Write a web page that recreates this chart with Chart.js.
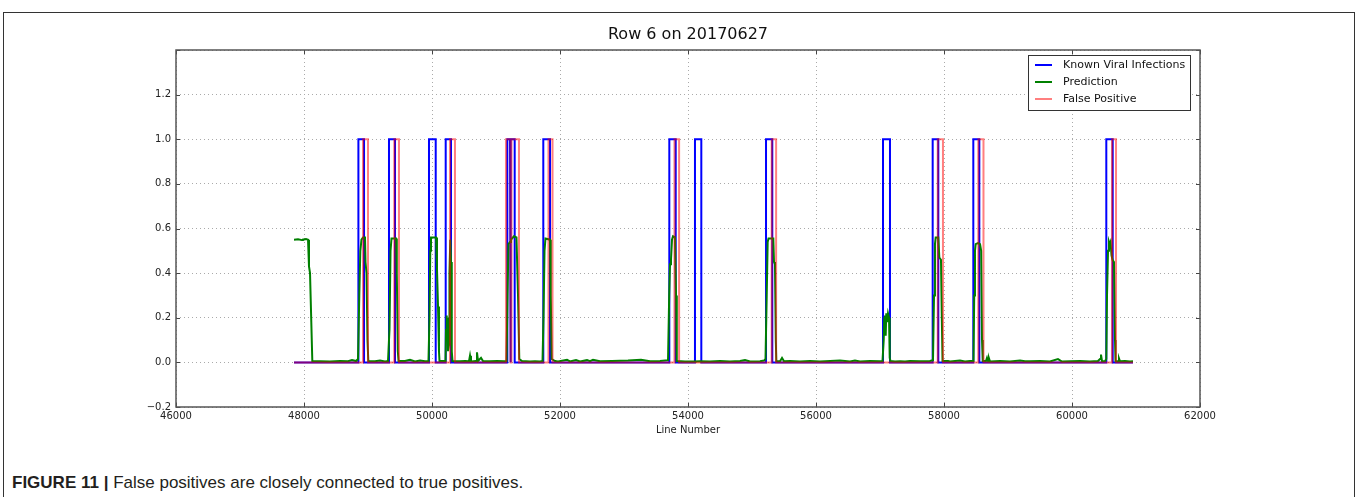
<!DOCTYPE html>
<html>
<head>
<meta charset="utf-8">
<script src="https://cdn.jsdelivr.net/npm/chart.js@4.4.1/dist/chart.umd.min.js"></script>
<style>
  body { margin: 0; background: #fff; width: 1358px; height: 497px; overflow: hidden; position: relative; }
  #frame { position: absolute; left: 3px; top: 12px; width: 1350px; height: 500px;
           border: 1px solid #333; border-bottom: none; }
  #wrap { position: absolute; left: 0; top: 0; width: 1358px; height: 462px; }
  #caption { position: absolute; left: 12px; top: 473px; font: 17px "Liberation Sans", Arial, sans-serif;
             color: #231f20; white-space: nowrap; }
  #caption b { font-weight: bold; }
</style>
</head>
<body>
<div id="frame"></div>
<div id="wrap"><canvas id="myChart" width="1358" height="462"></canvas></div>
<div id="caption"><b>FIGURE 11 |</b> False positives are closely connected to true positives.</div>
<script>
const chartTitle = "Row 6 on 20170627";

// line range covered by the recording
const lineStart = 47844;
const lineEnd = 60953;

// known viral infections (value 1 between start and end)
const knownStart = [48850, 49328, 49953, 50214, 51177, 51234, 51739, 53708, 54109, 55219, 57047, 57823, 58458, 60536];
const knownEnd   = [48938, 49422, 50058, 50297, 51219, 51292, 51844, 53808, 54208, 55317, 57156, 57911, 58552, 60636];

// false positives (value 1 between start and end)
const falseStart = [48922, 49411, 50281, 51156, 51242, 51820, 53789, 55308, 57902, 58536, 60625];
const falseEnd   = [49000, 49484, 50359, 51227, 51359, 51883, 53861, 55377, 57984, 58617, 60688];

// prediction curve
const predX = [
  47844, 47906, 47969, 47984, 48031, 48063, 48078, 48094, 48130, 48250, 48406, 48563, 48688, 48750, 48813, 48844,
  48864, 48880, 48898, 48922, 48953, 48961, 48977, 48992, 49005,
  49109, 49188, 49266, 49313,
  49336, 49352, 49367, 49438, 49450, 49466, 49477,
  49578, 49656, 49734, 49813, 49891, 49945,
  49961, 49973, 49984, 50063, 50078, 50094, 50109, 50117,
  50172, 50211,
  50219, 50227, 50234, 50242, 50250, 50266, 50273, 50286, 50297, 50309, 50320,
  50438, 50516, 50578, 50594, 50609, 50688, 50703, 50719, 50766, 50797, 50906, 51016, 51125, 51164,
  51180, 51195, 51219, 51234, 51250, 51281, 51320, 51344, 51364,
  51406, 51531, 51609, 51688, 51727,
  51742, 51758, 51773, 51844, 51856, 51870,
  51922, 51969, 52109, 52156, 52250, 52313, 52422, 52469, 52516, 52625, 52813, 53063, 53266, 53406, 53563, 53688,
  53706, 53719, 53734, 53750, 53766, 53797, 53813, 53825,
  53953, 54078, 54188, 54344, 54500, 54656, 54813, 54891, 54969, 55125, 55188, 55211,
  55230, 55245, 55258, 55333, 55344, 55359, 55372, 55380,
  55438, 55469, 55500, 55594, 55750, 55906, 56063, 56219, 56375, 56531, 56609, 56688, 56844, 57000, 57039,
  57058, 57067, 57078, 57089, 57098, 57109, 57125, 57141, 57152, 57164,
  57234, 57313, 57391, 57469, 57625, 57781, 57828,
  57844, 57859, 57870, 57911, 57927, 57953, 57966, 57977,
  58063, 58094, 58172, 58250, 58328, 58406, 58461,
  58472, 58484, 58495, 58531, 58563, 58581, 58594, 58605,
  58656, 58672, 58688, 58703, 58719, 58875, 59031, 59188, 59266, 59344, 59500, 59656, 59781, 59844, 59969, 60125,
  60281, 60406, 60438, 60453, 60469, 60516, 60536,
  60547, 60563, 60578, 60589, 60602, 60617, 60633, 60656, 60672, 60680,
  60719, 60734, 60750, 60828, 60906, 60953
];
const predY = [
  0.55, 0.552, 0.548, 0.55, 0.553, 0.55, 0.43, 0.40, 0.006, 0.005, 0.004, 0.006, 0.005, 0.01, 0.006, 0.015,
  0.3, 0.5, 0.55, 0.56, 0.56, 0.45, 0.4, 0.1, 0.006,
  0.005, 0.008, 0.004, 0.006,
  0.15, 0.5, 0.555, 0.555, 0.4, 0.05, 0.006,
  0.006, 0.012, 0.004, 0.008, 0.005, 0.006,
  0.2, 0.5, 0.56, 0.56, 0.42, 0.25, 0.05, 0.006,
  0.006, 0.006,
  0.15, 0.21, 0.1, 0.2, 0.05, 0.08, 0.4, 0.55, 0.45, 0.05, 0.006,
  0.005, 0.006, 0.005, 0.03, 0.004, 0.006, 0.045, 0.006, 0.02, 0.006, 0.005, 0.006, 0.005, 0.006,
  0.3, 0.53, 0.54, 0.55, 0.555, 0.565, 0.56, 0.3, 0.015,
  0.006, 0.004, 0.005, 0.004, 0.006,
  0.2, 0.5, 0.555, 0.55, 0.3, 0.015,
  0.006, 0.004, 0.012, 0.004, 0.01, 0.004, 0.01, 0.005, 0.012, 0.005, 0.006, 0.008, 0.012, 0.005, 0.006, 0.01,
  0.3, 0.44, 0.46, 0.55, 0.565, 0.56, 0.3, 0.006,
  0.004, 0.004, 0.005, 0.004, 0.006, 0.004, 0.006, 0.01, 0.004, 0.005, 0.008, 0.015,
  0.3, 0.54, 0.555, 0.555, 0.45, 0.44, 0.1, 0.006,
  0.005, 0.02, 0.005, 0.006, 0.004, 0.006, 0.004, 0.006, 0.008, 0.004, 0.008, 0.004, 0.006, 0.005, 0.006,
  0.1, 0.2, 0.21, 0.12, 0.22, 0.18, 0.22, 0.2, 0.02, 0.006,
  0.004, 0.005, 0.004, 0.006, 0.005, 0.006, 0.01,
  0.3, 0.53, 0.56, 0.56, 0.47, 0.46, 0.2, 0.006,
  0.006, 0.004, 0.006, 0.008, 0.004, 0.006, 0.006,
  0.3, 0.5, 0.53, 0.535, 0.53, 0.5, 0.1, 0.006,
  0.006, 0.02, 0.005, 0.018, 0.004, 0.006, 0.004, 0.008, 0.005, 0.005, 0.006, 0.004, 0.015, 0.004, 0.005, 0.006,
  0.004, 0.006, 0.015, 0.035, 0.005, 0.006, 0.015,
  0.3, 0.5, 0.54, 0.53, 0.54, 0.48, 0.46, 0.45, 0.1, 0.006,
  0.005, 0.018, 0.005, 0.006, 0.004, 0.005
];

// turn start/end lists into a 0/1 step trace
function pulsePoints(starts, ends) {
  const pts = [{ x: lineStart, y: 0 }];
  starts.forEach((s, i) => {
    pts.push({ x: s, y: 0 }, { x: s, y: 1 }, { x: ends[i], y: 1 }, { x: ends[i], y: 0 });
  });
  pts.push({ x: lineEnd, y: 0 });
  return pts;
}

const tickFont = { family: "'DejaVu Sans', sans-serif", size: 10 };

// matplotlib style frame, inward ticks, title and legend inside the axes
const axesPlugin = {
  id: "axesDecor",
  afterDatasetsDraw(chart) {
    const { ctx, chartArea: a, scales } = chart;
    ctx.save();
    ctx.strokeStyle = "#444";
    ctx.lineWidth = 1;
    ctx.beginPath();
    scales.x.ticks.forEach((t) => {
      const px = Math.round(scales.x.getPixelForValue(t.value)) + 0.5;
      ctx.moveTo(px, a.bottom); ctx.lineTo(px, a.bottom - 4);
      ctx.moveTo(px, a.top); ctx.lineTo(px, a.top + 4);
    });
    scales.y.ticks.forEach((t) => {
      const py = Math.round(scales.y.getPixelForValue(t.value)) + 0.5;
      ctx.moveTo(a.left, py); ctx.lineTo(a.left + 4, py);
      ctx.moveTo(a.right, py); ctx.lineTo(a.right - 4, py);
    });
    ctx.stroke();
    ctx.lineWidth = 1.5;
    ctx.strokeStyle = "#555";
    ctx.strokeRect(a.left, a.top, a.right - a.left, a.bottom - a.top);

    // title centred over the axes
    ctx.fillStyle = "#111";
    ctx.font = "16px 'DejaVu Sans', sans-serif";
    ctx.textAlign = "center";
    ctx.textBaseline = "middle";
    ctx.fillText(chartTitle, (a.left + a.right) / 2, 35);

    // legend
    const bx = a.right - 172, by = a.top + 5, bw = 162, bh = 55;
    ctx.fillStyle = "#fff";
    ctx.fillRect(bx, by, bw, bh);
    ctx.lineWidth = 1;
    ctx.strokeStyle = "#333";
    ctx.strokeRect(bx + 0.5, by + 0.5, bw, bh);
    ctx.font = "11px 'DejaVu Sans', sans-serif";
    ctx.textAlign = "left";
    [0, 1, 2].forEach((di, row) => {
      const ds = chart.data.datasets[di];
      const ry = by + 10 + row * 17;
      ctx.strokeStyle = ds.borderColor;
      ctx.lineWidth = ds.borderWidth;
      ctx.beginPath();
      ctx.moveTo(bx + 7, ry); ctx.lineTo(bx + 24, ry);
      ctx.stroke();
      ctx.fillStyle = "#111";
      ctx.fillText(ds.label, bx + 35, ry);
    });
    ctx.restore();
  }
};

const ctx = document.getElementById("myChart").getContext("2d");
new Chart(ctx, {
  type: "scatter",
  data: {
    datasets: [
      {
        label: "Known Viral Infections",
        data: pulsePoints(knownStart, knownEnd),
        borderColor: "#0000ff",
        borderWidth: 2,
        showLine: true,
        pointRadius: 0,
        order: 3,
      },
      {
        label: "Prediction",
        data: predX.map((x, i) => ({ x: x, y: predY[i] })),
        borderColor: "#008000",
        borderWidth: 2,
        showLine: true,
        pointRadius: 0,
        order: 2,
      },
      {
        label: "False Positive",
        data: pulsePoints(falseStart, falseEnd),
        borderColor: "rgba(255, 0, 0, 0.5)",
        borderWidth: 2,
        showLine: true,
        pointRadius: 0,
        order: 1,
      },
    ],
  },
  options: {
    responsive: false,
    animation: false,
    layout: { padding: { left: 0, right: 158, top: 50, bottom: 0 } },
    scales: {
      x: {
        type: "linear",
        min: 46000,
        max: 62000,
        afterFit: (scale) => { scale.height = 55; },
        ticks: { stepSize: 2000, font: tickFont, color: "#222", padding: 3, maxRotation: 0,
                 callback: (v) => String(v) },
        grid: { color: "#aaa", drawTicks: false },
        border: { display: false, dash: [1, 3] },
        title: { display: true, text: "Line Number", font: tickFont, color: "#222", padding: { top: 0, bottom: 26 } },
      },
      y: {
        min: -0.2,
        max: 1.4,
        afterFit: (scale) => { scale.width = 176; },
        ticks: {
          stepSize: 0.2, font: tickFont, color: "#222", padding: 5,
          callback: (v) => (v > 1.3 ? "" : (v < -1e-9 ? "\u2212" : "") + Math.abs(v).toFixed(1)),
        },
        grid: { color: "#aaa", drawTicks: false },
        border: { display: false, dash: [1, 3] },
      },
    },
    plugins: {
      legend: { display: false },
      tooltip: { enabled: false },
      title: { display: false },
    },
  },
  plugins: [axesPlugin],
});
</script>
</body>
</html>
